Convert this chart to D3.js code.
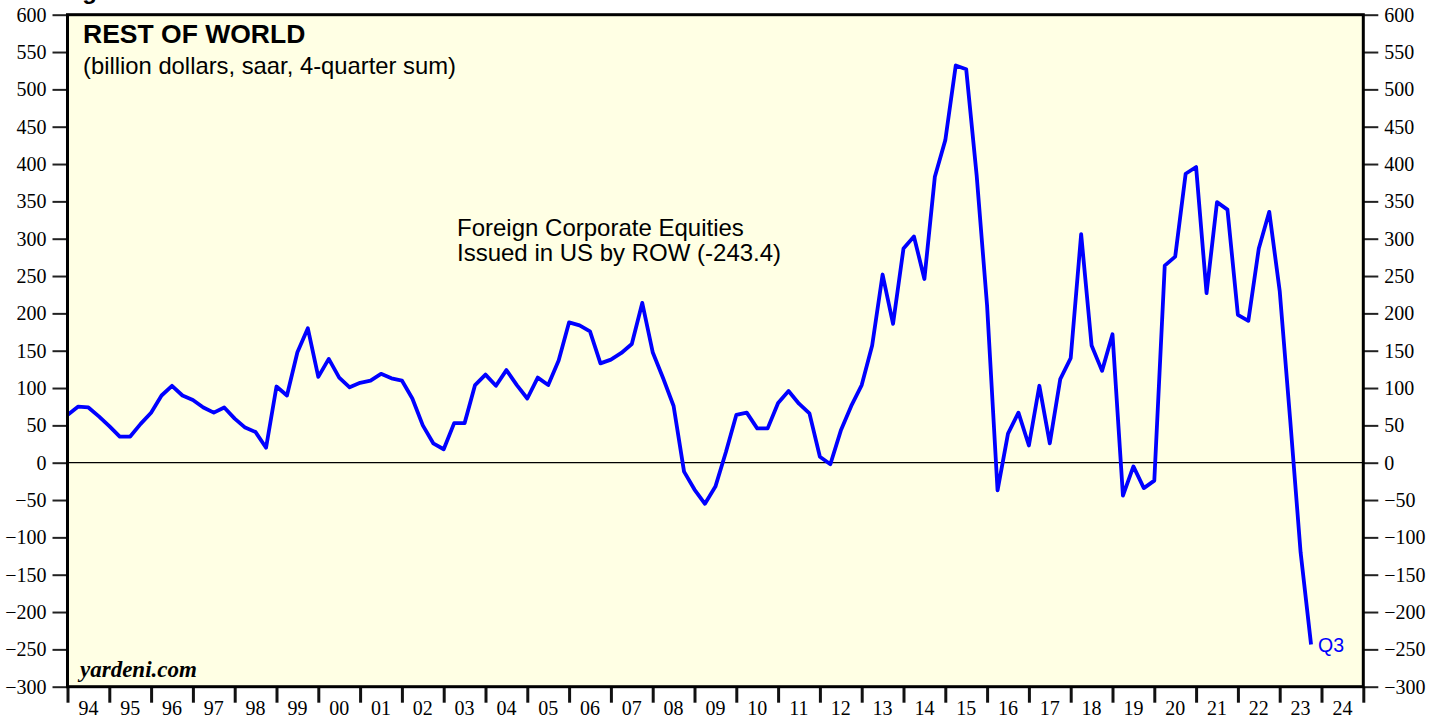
<!DOCTYPE html>
<html>
<head>
<meta charset="utf-8">
<script src="https://cdn.jsdelivr.net/npm/d3@7"></script>
<style>
body { margin: 0; background: #fff; }
</style>
</head>
<body>
<script>
// quarterly, 4-quarter sums, billion dollars (1993 Q4 .. 2023 Q3)
var firstQuarter = {year: 1993, q: 4}
var values = [
    64, 75, 74, 62, 49, 35, 35, 52, 67, 90,
    103, 90, 84, 74, 67, 74, 59, 47, 41, 20,
    102, 90, 148, 180, 115, 139, 114, 101, 107, 110,
    119, 113, 110, 86, 50, 26, 18, 53, 53, 104,
    118, 103, 124, 104, 86, 114, 104, 137, 188, 184,
    176, 133, 138, 147, 159, 214, 148, 113, 76, -12,
    -36, -55, -32, 14, 64, 67, 46, 46, 80, 96,
    79, 66, 8, -2, 43, 76, 104, 157, 252, 186,
    287, 303, 246, 383, 432, 532, 527, 385, 210, -37,
    39, 67, 23, 103, 26, 112, 140, 306, 157, 123,
    172, -44, -5, -34, -24, 264, 276, 387, 396, 227,
    349, 339, 198, 190, 287, 336, 230, 58, -120, -243.4
]
var yearLabels = ['94', '95', '96', '97', '98', '99', '00', '01', '02', '03',
    '04', '05', '06', '07', '08', '09', '10', '11', '12', '13',
    '14', '15', '16', '17', '18', '19', '20', '21', '22', '23', '24']
var yTicks = [-300, -250, -200, -150, -100, -50, 0, 50, 100, 150, 200,
    250, 300, 350, 400, 450, 500, 550, 600]
var firstYear = 1994

const chart = () => {
    var width = 1441,
        height = 719
    var m = {left: 67.5, right: 1363.3, top: 14.7, bottom: 686.7}
    var serif = '"Liberation Serif", "Times New Roman", serif'

    var svg = d3.select('body').append('svg')
        .attr('width', width)
        .attr('height', height)
        .attr('font-family', '"Liberation Sans", Arial, sans-serif')

    var x = d3.scaleLinear()
        .domain([firstYear, firstYear + yearLabels.length])
        .range([m.left, m.right])
    var y = d3.scaleLinear()
        .domain([yTicks[0], yTicks[yTicks.length - 1]])
        .range([m.bottom, m.top])

    // quarter end as decimal year
    var pts = values.map((v, i) => {
        var qn = firstQuarter.q + i
        return {t: firstQuarter.year + qn / 4, v: v}
    })

    svg.append('rect')
        .attr('x', m.left).attr('y', m.top)
        .attr('width', m.right - m.left).attr('height', m.bottom - m.top)
        .attr('fill', '#ffffe4')

    // cut off figure heading at the very top
    svg.append('text')
        .attr('x', 61).attr('y', -1)
        .attr('font-size', 24).attr('font-weight', 'bold')
        .text('Figure 5.')

    svg.append('line')
        .attr('x1', m.left).attr('x2', m.right)
        .attr('y1', y(0)).attr('y2', y(0))
        .attr('stroke', '#000').attr('stroke-width', 1.2)

    var line = d3.line()
        .x(d => x(d.t))
        .y(d => y(d.v))

    svg.append('path')
        .datum(pts)
        .attr('d', line)
        .attr('fill', 'none')
        .attr('stroke', '#0000ff')
        .attr('stroke-width', 3.8)
        .attr('stroke-linejoin', 'round')

    function styleAxis(g) {
        g.select('.domain').remove()
        g.selectAll('.tick line').attr('stroke', '#222').attr('stroke-width', 2)
        g.selectAll('.tick text')
            .attr('font-family', serif)
            .attr('font-size', 20).attr('fill', '#000')
    }

    svg.append('g')
        .attr('transform', `translate(${m.left},0)`)
        .call(d3.axisLeft(y).tickValues(yTicks).tickSize(15).tickPadding(6))
        .call(styleAxis)

    svg.append('g')
        .attr('transform', `translate(${m.right},0)`)
        .call(d3.axisRight(y).tickValues(yTicks).tickSize(15).tickPadding(6))
        .call(styleAxis)

    var yearTicks = d3.range(firstYear, firstYear + yearLabels.length + 1)
    svg.append('g')
        .attr('transform', `translate(0,${m.bottom})`)
        .call(d3.axisBottom(x).tickValues(yearTicks).tickSize(16).tickFormat(''))
        .call(g => {
            g.select('.domain').remove()
            g.selectAll('.tick line').attr('stroke', '#111').attr('stroke-width', 3)
        })

    svg.append('g').selectAll('text')
        .data(yearLabels).enter()
        .append('text')
        .attr('x', (d, i) => x(firstYear + i + 0.5))
        .attr('y', 715)
        .attr('text-anchor', 'middle')
        .attr('font-family', serif)
        .attr('font-size', 20)
        .text(d => d)

    // frame
    svg.append('rect')
        .attr('x', m.left).attr('y', m.top)
        .attr('width', m.right - m.left).attr('height', m.bottom - m.top)
        .attr('fill', 'none')
        .attr('stroke', '#000').attr('stroke-width', 3)

    svg.append('text')
        .attr('x', 83).attr('y', 43)
        .attr('font-size', 26.5).attr('font-weight', 'bold')
        .text('REST OF WORLD')
    svg.append('text')
        .attr('x', 83).attr('y', 74)
        .attr('font-size', 23.8)
        .text('(billion dollars, saar, 4-quarter sum)')

    svg.append('text')
        .attr('x', 457).attr('y', 236)
        .attr('font-size', 24)
        .text('Foreign Corporate Equities')
    svg.append('text')
        .attr('x', 457).attr('y', 261)
        .attr('font-size', 24)
        .text('Issued in US by ROW (-243.4)')

    svg.append('text')
        .attr('x', 80).attr('y', 677)
        .attr('font-family', serif)
        .attr('font-size', 23).attr('font-weight', 'bold').attr('font-style', 'italic')
        .text('yardeni.com')

    var last = pts[pts.length - 1]
    svg.append('text')
        .attr('x', x(last.t) + 7).attr('y', y(last.v) + 8)
        .attr('font-size', 19.5).attr('fill', '#0000ff')
        .text('Q3')
}

chart()
</script>
</body>
</html>
